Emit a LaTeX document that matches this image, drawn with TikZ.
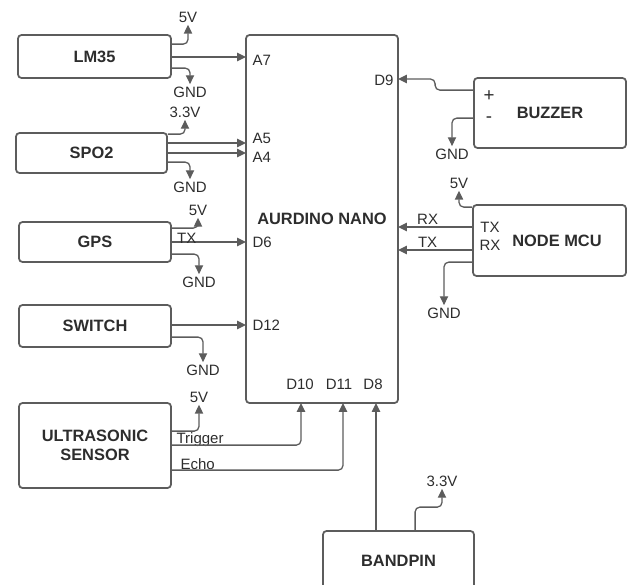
\documentclass[tikz,border=0pt]{standalone}
\usepackage{fontspec}
\setmainfont{Liberation Sans}
\usepackage{tikz}
\usetikzlibrary{arrows.meta, calc, positioning}
\definecolor{linegray}{RGB}{92,92,92}
\definecolor{textgray}{RGB}{45,45,45}
\tikzstyle{block} = [rectangle, rounded corners=3pt, draw=linegray, line width=1.5pt, text=textgray, font=\fontsize{14}{16}\selectfont\bfseries, align=center]
\tikzstyle{pin} = [inner sep=2pt, text=textgray, font=\fontsize{12.8}{14}\selectfont]
\tikzstyle{arrow} = [draw=linegray, line width=1.1pt, rounded corners=4pt, -{Triangle[length=7.5pt,width=7pt]}]

\begin{document}
\begin{tikzpicture}[x=0.03cm, y=-0.03cm]
        \useasboundingbox (0,0) rectangle (629,584);
        % Nodes
        \node (lm35) [block, minimum width=4.59cm, minimum height=1.29cm] at (94.5,56.5) {LM35};
        \node (spo2) [block, minimum width=4.53cm, minimum height=1.2cm] at (91.5,153) {SPO2};
        \node (gps) [block, minimum width=4.56cm, minimum height=1.2cm] at (95,242) {GPS};
        \node (switch) [block, minimum width=4.56cm, minimum height=1.26cm] at (95,326) {SWITCH};
        \node (ultra) [block, minimum width=4.56cm, minimum height=2.55cm] at (95,445.5) {ULTRASONIC\\SENSOR};
        \node (nano) [block, minimum width=4.56cm, minimum height=11.04cm] at (322,219) {AURDINO NANO};
        \node (buzzer) [block, minimum width=4.56cm, minimum height=2.1cm] at (550,113) {BUZZER};
        \node (nodemcu) [block, minimum width=4.59cm, minimum height=2.13cm] at (549.5,240.5) {\hspace*{0.45cm}NODE MCU};
        \node (bandpin) [block, minimum width=4.53cm, minimum height=1.77cm] at (398.5,560.5) {BANDPIN};

        % Pin labels on the nano
        \node (a7) [pin, anchor=west] at (250,60) {A7};
        \node (a5) [pin, anchor=west] at (250,138) {A5};
        \node (a4) [pin, anchor=west] at (250,157) {A4};
        \node (d6) [pin, anchor=west] at (250,242) {D6};
        \node (d12) [pin, anchor=west] at (250,325) {D12};
        \node (d9) [pin, anchor=east] at (396,80) {D9};
        \node (d10) [pin] at (300,384) {D10};
        \node (d11) [pin] at (339,384) {D11};
        \node (d8) [pin] at (373,384) {D8};
        \coordinate (pA7) at (246,57);
        \coordinate (pA5) at (246,143);
        \coordinate (pA4) at (246,153);
        \coordinate (pD6) at (246,242);
        \coordinate (pD12) at (246,325);
        \coordinate (pD9) at (398,79);
        \coordinate (pRX) at (398,227);
        \coordinate (pTX) at (398,250);
        \coordinate (pD10) at (301,403);
        \coordinate (pD11) at (343,403);
        \coordinate (pD8) at (376,403);

        % Supply and ground labels
        \node (lm35v) [pin] at (188,17) {5V};
        \node (lm35g) [pin] at (190,92) {GND};
        \node (spo2v) [pin] at (185,112) {3.3V};
        \node (spo2g) [pin] at (190,187) {GND};
        \node (gpsv) [pin] at (198,210) {5V};
        \node (gpsg) [pin] at (199,282) {GND};
        \node (swg) [pin] at (203,370) {GND};
        \node (ultrav) [pin] at (199,397) {5V};
        \node (buzg) [pin] at (452,154) {GND};
        \node (mcuv) [pin] at (459,183) {5V};
        \node (mcug) [pin] at (444,313) {GND};
        \node (bandv) [pin] at (442,481) {3.3V};

        % Texts beside the wires
        \node (plus) [pin, font=\fontsize{16}{18}\selectfont] at (489,96) {+};
        \node (minus) [pin, font=\fontsize{16}{18}\selectfont] at (489,120) {-};
        \node (mcutx) [pin] at (490,227) {TX};
        \node (mcurx) [pin] at (490,245) {RX};
        \node (trig) [pin, anchor=west] at (174,440) {Trigger};
        \node (echo) [pin, anchor=west] at (178,464) {Echo};

        % Connections
        \draw [arrow] ($(lm35.north east)+(0,10)$) -| (lm35v);
        \draw [arrow] (lm35.east |- pA7) -- (pA7);
        \draw [arrow] ($(lm35.north east)+(0,34)$) -| (lm35g);
        \draw [arrow] ($(spo2.north east)+(0,2)$) -| (spo2v);
        \draw [arrow] (spo2.east |- pA5) -- (pA5);
        \draw [arrow] (spo2.east |- pA4) -- (pA4);
        \draw [arrow] ($(spo2.north east)+(0,30)$) -| (spo2g);
        \draw [arrow] ($(gps.north east)+(0,7)$) -| (gpsv);
        \draw [arrow] (gps.east |- pD6) -- (pD6) node [pin, pos=0.2, yshift=3pt] {TX};
        \draw [arrow] ($(gps.north east)+(0,33)$) -| (gpsg);
        \draw [arrow] (switch.east |- pD12) -- (pD12);
        \draw [arrow] ($(switch.north east)+(0,33)$) -| (swg);
        \draw [arrow] ($(ultra.north east)+(0,29)$) -| (ultrav);
        \draw [arrow] ($(ultra.north east)+(0,43)$) -| (pD10);
        \draw [arrow] ($(ultra.north east)+(0,68)$) -| (pD11);
        \draw [arrow] (bandpin.north -| pD8) -- (pD8);
        \draw [arrow] ($(bandpin.north west)+(93,0)$) -- ++(0,-23) -| (bandv);
        \draw [arrow] ($(buzzer.north west)+(0,13)$) -- ++(-38,0) |- (pD9);
        \draw [arrow] ($(buzzer.north west)+(0,41)$) -| (buzg);
        \draw [arrow] ($(nodemcu.north west)+(0,3)$) -| (mcuv);
        \draw [arrow] (nodemcu.west |- pRX) -- (pRX) node [pin, pos=0.6, above] {RX};
        \draw [arrow] (nodemcu.west |- pTX) -- (pTX) node [pin, pos=0.6, above] {TX};
        \draw [arrow] ($(nodemcu.north west)+(0,58)$) -| (mcug);
    \end{tikzpicture}
\end{document}
